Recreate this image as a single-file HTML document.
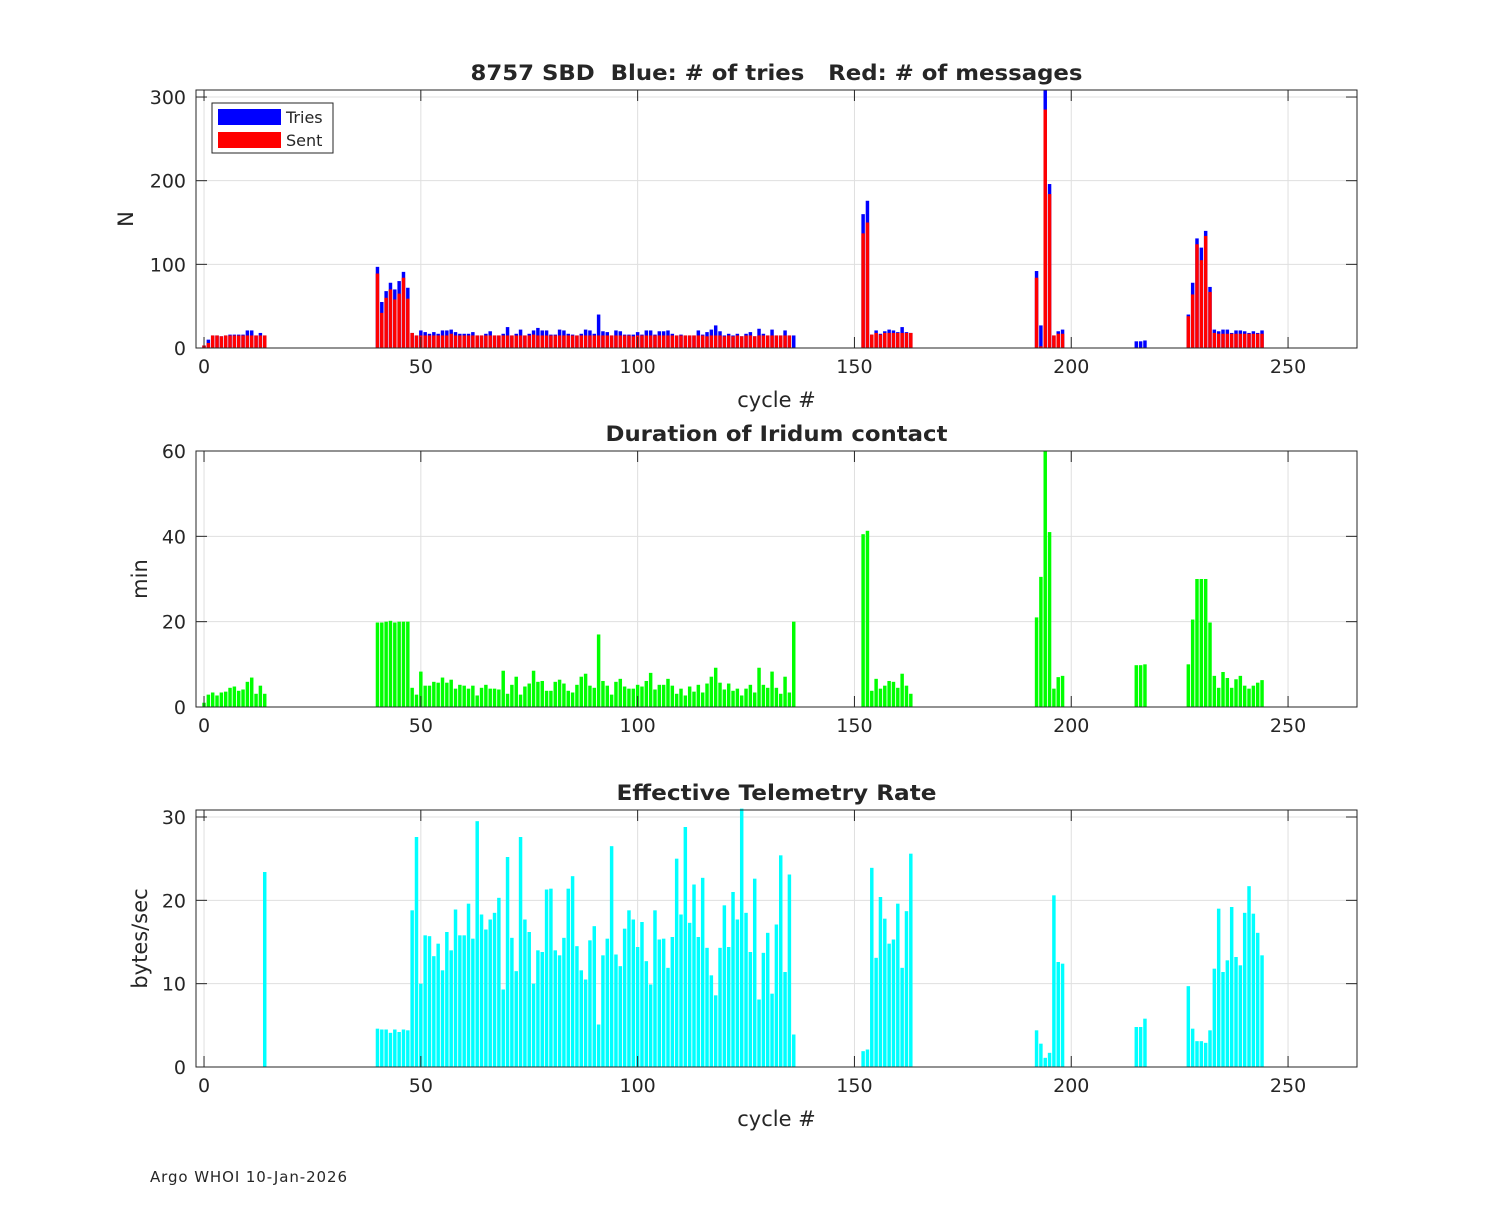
<!DOCTYPE html>
<html><head><meta charset="utf-8"><style>
body{margin:0;background:#fff;}
svg text{font-family:"DejaVu Sans","Liberation Sans",sans-serif;fill:#262626;white-space:pre;}
</style></head><body>
<svg id="fig" width="1500" height="1200" xmlns="http://www.w3.org/2000/svg">
<rect width="1500" height="1200" fill="#fff"/>
<text x="150" y="1182" font-size="15" fill="#000" textLength="197">Argo WHOI 10-Jan-2026</text>
</svg>
<script>
// ---- data ----
const cyclesA = [0,1,2,3,4,5,6,7,8,9,10,11,12,13,14];
const triesA = [3,10,15,15,14,15,16,16,16,16,21,21,15,18,15];
const sentA  = [3,6,15,15,14,15,15,15,15,15,15,15,15,15,15];
const cyclesB = []; for (let c=40;c<=136;c++) cyclesB.push(c);
const triesB = [97,55,68,78,70,80,91,72,18,15,
 21,19,17,19,17,21,21,22,19,17, 17,17,19,15,15,17,20,15,15,17, 25,15,17,22,15,17,21,24,21,21, 16,16,22,21,17,16,15,17,22,21, 17,40,
 20,19,15,21,20,16,16,16,19,16, 21,21,16,20,20,21,17,15,16,15, 15,15,21,16,19,22,27,20,15,17, 15,17,14,17,19,14,23,17,15,22, 15,15,21,15,15];
const sentB = [89,42,60,70,58,65,84,59,18,15,
 15,15,15,15,15,15,15,17,15,15, 15,15,15,15,15,15,15,15,15,15, 15,15,15,15,15,15,16,15,15,15, 15,15,15,15,15,15,15,15,15,15, 15,15,
 15,15,15,15,15,15,15,14,15,15, 15,15,15,15,15,15,15,15,15,15, 15,15,15,15,14,15,15,15,14,15, 14,15,14,15,15,14,15,15,15,15, 15,15,15,15,0];
const cyclesC = [152,153,154,155,156,157,158,159,160,161,162,163];
const triesC = [160,176,16,21,17,20,22,21,19,25,19,18];
const sentC  = [137,150,16,18,16,18,18,18,18,18,18,18];
const cyclesD = [192,193,194,195,196,197,198,215,216,217];
const triesD = [92,27,308,196,15,20,22,8,8,9];
const sentD  = [84,2,285,184,15,17,17,0,0,0];
const cyclesE = []; for (let c=227;c<=244;c++) cyclesE.push(c);
const triesE = [40,78,131,120,140,73,22,20,22,22,18,21,21,20,18,20,18,21];
const sentE  = [38,64,124,105,134,67,18,17,17,17,17,17,17,17,17,17,17,17];

const minA = [1,2.9,3.4,2.7,3.4,3.6,4.5,4.8,3.8,4.1,5.9,6.9,3.1,5,3.1];
const minB = [19.8,19.8,20,20.2,19.8,20,20,20,4.5,2.9,
 8.3,5,5,5.9,5.7,6.9,5.7,6.4,4.3,5.2, 5,4.3,5,2.7,4.5,5.2,4.3,4.3,4.1,8.5, 3.1,5.2,7.1,2.9,4.8,5.5,8.5,5.9,6.1,3.8, 3.8,5.9,6.4,5.5,3.8,3.4,5.2,7.1,7.8,5, 4.5,17,
 6.1,5,2.9,5.9,6.6,4.8,4.3,4.3,5.2,4.8, 6.1,8,4.1,5.2,5.2,6.6,5,3.1,4.3,2.7, 4.8,3.6,5.2,3.4,5.5,7.1,9.2,5.7,4.1,5.5, 3.8,4.3,2.7,4.3,5.2,3.4,9.2,5.2,4.5,8.3, 4.5,3.1,7.1,3.4,20];
const minC = [40.5,41.3,3.8,6.6,4.3,5,6.1,5.9,4.5,7.8,5,3.1];
const minD = [21,30.5,60,41,4.3,7,7.3,9.8,9.8,10];
const minE = [10,20.5,30,30,30,19.8,7.3,4.5,8.2,6.8,4.5,6.5,7.3,5,4.3,5,5.7,6.3];

const rateA = [0,0,0,0,0,0,0,0,0,0,0,0,0,0,23.4];
const rateB = [4.6,4.5,4.5,4.1,4.5,4.2,4.5,4.4,18.8,27.6,
 10,15.8,15.7,13.3,14.8,11.6,16.2,14,18.9,15.8, 15.8,19.6,15.4,29.5,18.3,16.5,17.7,18.5,20.3,9.3, 25.2,15.5,11.5,27.6,17.7,16.2,10,14,13.8,21.3, 21.4,14,13.4,15.5,21.4,22.9,14.5,11.6,10.5,15.2, 16.9,5.1,
 13.4,15.4,26.5,13.5,12.1,16.6,18.8,17.7,14.4,17.4, 12.7,9.9,18.8,15.3,15.4,11.9,15.6,25,18.3,28.8, 17.3,21.9,15.6,22.7,14.3,11,8.6,14.3,19.4,14.4, 21,17.7,31,18.5,13.8,22.6,8.1,13.7,16.1,8.8, 17.1,25.4,11.4,23.1,3.9];
const rateC = [1.9,2.1,23.9,13.1,20.4,17.8,14.8,15.3,19.6,11.9,18.7,25.6];
const rateD = [4.4,2.8,1.1,1.7,20.6,12.6,12.4,4.8,4.8,5.8];
const rateE = [9.7,4.6,3.1,3.1,2.9,4.4,11.8,19,11.4,12.8,19.2,13.2,12.2,18.5,21.7,18.4,16.1,13.4];

const xTicks = [0,50,100,150,200,250];
const yTicks1 = [0,100,200,300];
const yTicks2 = [0,20,40,60];
const yTicks3 = [0,10,20,30];

// ---- drawing ----
const NS="http://www.w3.org/2000/svg";
const svg=document.getElementById('fig');
const L=196,R=1357,XMIN=-1.85,XMAX=265.9;
function xs(v){return L+(v-XMIN)/(XMAX-XMIN)*(R-L);}
function mk(tag,attrs,parent){const e=document.createElementNS(NS,tag);for(const k in attrs)e.setAttribute(k,attrs[k]);(parent||svg).appendChild(e);return e;}
const BW=0.8*(R-L)/(XMAX-XMIN);

function panel(key,top,bot,ymax,yt,title,titleLen,ylabel,ylx,xlabel){
  const g=mk('g',{});
  
  
  const ys=v=>bot-v/ymax*(bot-top);
  mk('rect',{x:L,y:top,width:R-L,height:bot-top,fill:'#fff'},g);
  for(const t of xTicks){const l=mk('line',{x1:xs(t),x2:xs(t),y1:top,y2:bot,stroke:'#dfdfdf','stroke-width':1},g);
    }
  for(const t of yt){const l=mk('line',{x1:L,x2:R,y1:ys(t),y2:ys(t),stroke:'#dfdfdf','stroke-width':1},g);
    }
  const bars=mk('g',{},g);
  
  
  const axes=mk('g',{},g);
  mk('rect',{x:L,y:top,width:R-L,height:bot-top,fill:'none',stroke:'#262626','stroke-width':1},axes);
  for(const t of xTicks){
    mk('line',{x1:xs(t),x2:xs(t),y1:bot,y2:bot-11,stroke:'#262626'},axes);
    mk('line',{x1:xs(t),x2:xs(t),y1:top,y2:top+11,stroke:'#262626'},axes);
    const tx=mk('text',{x:xs(t),y:bot+25,'font-size':19,'text-anchor':'middle'},axes);tx.textContent=t;
    
  }
  for(const t of yt){
    mk('line',{x1:L,x2:L+11,y1:ys(t),y2:ys(t),stroke:'#262626'},axes);
    mk('line',{x1:R,x2:R-11,y1:ys(t),y2:ys(t),stroke:'#262626'},axes);
    const tx=mk('text',{x:L-10,y:ys(t)+7,'font-size':19,'text-anchor':'end'},axes);tx.textContent=t;
    
  }
  const tt=mk('text',{x:(L+R)/2,y:top-10,'font-size':21,'font-weight':'bold','text-anchor':'middle',fill:'#000',textLength:titleLen,lengthAdjust:'spacingAndGlyphs'},g);tt.textContent=title;
  
  const yl=mk('text',{x:ylx,y:(top+bot)/2,'font-size':21,'text-anchor':'middle',transform:`rotate(-90 ${ylx} ${(top+bot)/2})`},g);yl.textContent=ylabel;
  
  if(xlabel){const xl=mk('text',{x:(L+R)/2,y:bot+59,'font-size':21,'text-anchor':'middle'},g);xl.textContent='cycle #';
    }
  return {bars,ys};
}
function drawBars(p,cyc,vals,color,name){
  cyc.forEach((c,i)=>{const v=vals[i];if(!(v>0))return;
    const r=mk('rect',{x:xs(c)-BW/2,y:p.ys(v),width:BW,height:p.ys(0)-p.ys(v),fill:color},p.bars);
    
    
  });
}
const p1=panel('messages',90,348,308.4,yTicks1,'8757 SBD  Blue: # of tries   Red: # of messages',612,'N',133,true);
const p2=panel('duration',451,707,60,yTicks2,'Duration of Iridum contact',342,'min',147,false);
const p3=panel('rate',810,1067,30.84,yTicks3,'Effective Telemetry Rate',320,'bytes/sec',147,true);
[[cyclesA,triesA,sentA],[cyclesB,triesB,sentB],[cyclesC,triesC,sentC],[cyclesD,triesD,sentD],[cyclesE,triesE,sentE]].forEach(([c,t,s])=>{
  drawBars(p1,c,t,'#0000ff','tries-bar');
  drawBars(p1,c,s,'#ff0000','sent-bar');
});
[[cyclesA,minA,rateA],[cyclesB,minB,rateB],[cyclesC,minC,rateC],[cyclesD,minD,rateD],[cyclesE,minE,rateE]].forEach(([c,m,r])=>{
  drawBars(p2,c,m,'#00ff00','duration-bar');
  drawBars(p3,c,r,'#00ffff','rate-bar');
});
// legend
const lg=mk('g',{});


mk('rect',{x:212,y:103,width:121,height:50,fill:'#fff',stroke:'#262626','stroke-width':1},lg);
mk('rect',{x:218,y:109,width:63,height:16,fill:'#0000ff'},lg);
mk('rect',{x:218,y:132,width:63,height:16,fill:'#ff0000'},lg);
const t1=mk('text',{x:286,y:123,'font-size':16,fill:'#000'},lg);t1.textContent='Tries';

const t2=mk('text',{x:286,y:146,'font-size':16,fill:'#000'},lg);t2.textContent='Sent';

</script>
</body></html>
